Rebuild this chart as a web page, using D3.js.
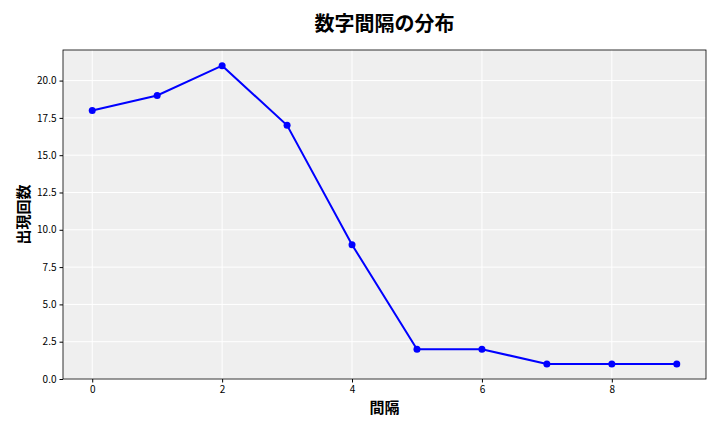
<!DOCTYPE html><html><head><meta charset="utf-8"><script src="https://cdn.jsdelivr.net/npm/d3@7"></script>
<style>body{margin:0;background:#fff}</style></head><body><svg id="c" width="720" height="432"></svg>
<script>
const gaps=[0,1,2,3,4,5,6,7,8,9];
const counts=[18,19,21,17,9,2,2,1,1,1];
const xTicks=[0,2,4,6,8];
const yTicks=[0,2.5,5,7.5,10,12.5,15,17.5,20];
const svg=d3.select("#c");
const L=63,R=706,T=50,B=379;
const x=d3.scaleLinear().domain([-0.45,9.45]).range([L,R]);
const y=d3.scaleLinear().domain([0,22.05]).range([B,T]);
const f="'Noto Sans CJK JP','Noto Sans',sans-serif";
svg.append("rect").attr("x",L).attr("y",T).attr("width",R-L).attr("height",B-T).attr("fill","#efefef");
svg.append("g").selectAll("line").data(xTicks).join("line").attr("x1",d=>x(d)).attr("x2",d=>x(d)).attr("y1",T).attr("y2",B).attr("stroke","#fff").attr("stroke-width",1);
svg.append("g").selectAll("line").data(yTicks).join("line").attr("y1",d=>y(d)).attr("y2",d=>y(d)).attr("x1",L).attr("x2",R).attr("stroke","#fff").attr("stroke-width",1);
svg.append("rect").attr("x",L).attr("y",T).attr("width",R-L).attr("height",B-T).attr("fill","none").attr("stroke","#000").attr("stroke-width",0.8);
const ax=svg.append("g").attr("transform",`translate(0,${B})`).call(d3.axisBottom(x).tickValues(xTicks).tickFormat(d3.format("d")).tickSize(3.5));
const ay=svg.append("g").attr("transform",`translate(${L},0)`).call(d3.axisLeft(y).tickValues(yTicks).tickFormat(d3.format(".1f")).tickSize(3.5));
[ax,ay].forEach(a=>{a.select(".domain").remove();a.selectAll("text").attr("font-family",f).attr("font-size",10).attr("fill","#000");});
svg.append("path").datum(gaps).attr("fill","none").attr("stroke","#0000ff").attr("stroke-width",2)
 .attr("d",d3.line().x(d=>x(d)).y((d,i)=>y(counts[i])));
svg.append("g").selectAll("circle").data(gaps).join("circle").attr("cx",d=>x(d)).attr("cy",(d,i)=>y(counts[i])).attr("r",3.5).attr("fill","#0000ff");
svg.append("text").attr("x",(L+R)/2).attr("y",31).attr("text-anchor","middle").attr("font-family",f).attr("font-size",20).attr("font-weight","bold").text("数字間隔の分布");
svg.append("text").attr("x",(L+R)/2).attr("y",413).attr("text-anchor","middle").attr("font-family",f).attr("font-size",15).attr("font-weight","bold").text("間隔");
svg.append("text").attr("transform",`translate(29,${(T+B)/2}) rotate(-90)`).attr("text-anchor","middle").attr("font-family",f).attr("font-size",15).attr("font-weight","bold").text("出現回数");
</script></body></html>
